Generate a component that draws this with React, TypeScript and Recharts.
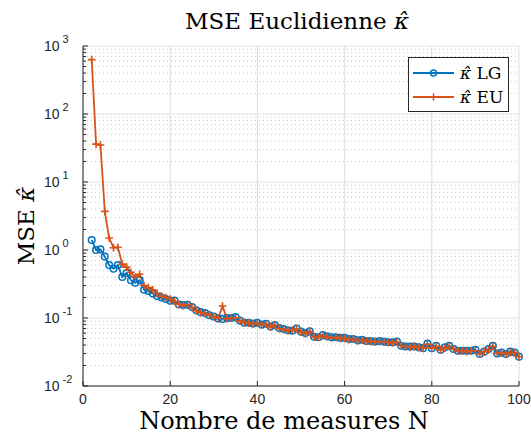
import {
  LineChart,
  Line,
  XAxis,
  YAxis,
  CartesianGrid,
  ReferenceLine,
} from "recharts";

const nValues = [
  2, 3, 4, 5, 6, 7, 8, 9, 10, 11, 12, 13, 14, 15, 16, 17, 18, 19, 20,
  21, 22, 23, 24, 25, 26, 27, 28, 29, 30, 31, 32, 33, 34, 35, 36, 37, 38, 39, 40,
  41, 42, 43, 44, 45, 46, 47, 48, 49, 50, 51, 52, 53, 54, 55, 56, 57, 58, 59, 60,
  61, 62, 63, 64, 65, 66, 67, 68, 69, 70, 71, 72, 73, 74, 75, 76, 77, 78, 79, 80,
  81, 82, 83, 84, 85, 86, 87, 88, 89, 90, 91, 92, 93, 94, 95, 96, 97, 98, 99, 100,
];

const lgValues = [
  1.4, 1.0, 1.02, 0.8, 0.6, 0.53, 0.6, 0.4, 0.46, 0.36, 0.33, 0.36, 0.26, 0.25, 0.23, 0.21, 0.2, 0.19, 0.18,
  0.18, 0.158, 0.155, 0.156, 0.145, 0.13, 0.122, 0.118, 0.11, 0.105, 0.098, 0.097, 0.1, 0.1, 0.103, 0.092, 0.085, 0.085, 0.083, 0.085,
  0.08, 0.082, 0.075, 0.079, 0.071, 0.069, 0.066, 0.065, 0.07, 0.063, 0.06, 0.064, 0.053, 0.052, 0.056, 0.054, 0.052, 0.052, 0.051, 0.051,
  0.049, 0.049, 0.047, 0.048, 0.046, 0.046, 0.045, 0.046, 0.045, 0.044, 0.044, 0.045, 0.039, 0.038, 0.038, 0.038, 0.037, 0.036, 0.042, 0.036,
  0.039, 0.034, 0.037, 0.039, 0.035, 0.033, 0.033, 0.033, 0.033, 0.034, 0.0295, 0.032, 0.035, 0.039, 0.03, 0.031, 0.0295, 0.032, 0.031, 0.027,
];

const euValues = [
  630, 36, 35, 3.7, 1.5, 1.08, 1.1, 0.62, 0.56, 0.47, 0.4, 0.44, 0.3, 0.28, 0.26, 0.23, 0.21, 0.2, 0.19,
  0.175, 0.16, 0.152, 0.158, 0.142, 0.128, 0.12, 0.116, 0.112, 0.104, 0.099, 0.15, 0.097, 0.1, 0.101, 0.09, 0.086, 0.084, 0.082, 0.084,
  0.079, 0.081, 0.074, 0.078, 0.07, 0.068, 0.065, 0.066, 0.069, 0.062, 0.059, 0.063, 0.052, 0.052, 0.055, 0.053, 0.051, 0.052, 0.05, 0.05,
  0.048, 0.049, 0.046, 0.047, 0.046, 0.045, 0.045, 0.045, 0.044, 0.044, 0.043, 0.044, 0.039, 0.038, 0.037, 0.038, 0.037, 0.036, 0.041, 0.036,
  0.038, 0.034, 0.036, 0.038, 0.035, 0.033, 0.033, 0.032, 0.033, 0.033, 0.0295, 0.032, 0.034, 0.038, 0.03, 0.031, 0.029, 0.031, 0.031, 0.027,
];

const xTicks = [0, 20, 40, 60, 80, 100];
const yMajor = [0.01, 0.1, 1, 10, 100, 1000];
const yMinor = [
  0.02, 0.03, 0.04, 0.05, 0.06, 0.07, 0.08, 0.09,
  0.2, 0.3, 0.4, 0.5, 0.6, 0.7, 0.8, 0.9,
  2, 3, 4, 5, 6, 7, 8, 9,
  20, 30, 40, 50, 60, 70, 80, 90,
  200, 300, 400, 500, 600, 700, 800, 900,
];
const seriesNames = ["LG", "EU"];

const data = nValues.map((n, i) => ({ n, lg: lgValues[i], eu: euValues[i] }));

const BLUE = "#0072BD";
const ORANGE = "#D95319";
const AXIS = "#262626";
const SERIF = "'DejaVu Serif', serif";
const SANS = "'Liberation Sans', Arial, sans-serif";

const isMajor = (v: number) => yMajor.some((m) => Math.abs(m - v) / m < 1e-6);

const YTick = (props: any) => {
  const { x, y, payload } = props;
  const v = payload.value;
  const major = isMajor(v);
  return (
    <g>
      <line x1={x} x2={x + (major ? 5 : 3)} y1={y} y2={y} stroke={AXIS} strokeWidth={1} />
      {major && (
        <text x={x - 39} y={y + 5} fontFamily={SANS} fontSize={14} fill={AXIS}>
          10
          <tspan dx={3} dy={-8} fontSize={11}>
            {Math.round(Math.log10(v))}
          </tspan>
        </text>
      )}
    </g>
  );
};

const XTick = (props: any) => {
  const { x, y, payload } = props;
  return (
    <g>
      <line x1={x} x2={x} y1={y} y2={y - 5} stroke={AXIS} strokeWidth={1} />
      <text x={x} y={y + 18} textAnchor="middle" fontFamily={SANS} fontSize={14} fill={AXIS}>
        {payload.value}
      </text>
    </g>
  );
};

const PlusDot = (props: any) => {
  const { cx, cy, index } = props;
  if (cx == null || cy == null) return <g key={`e${index}`} />;
  return (
    <path
      key={`p${index}`}
      d={`M${cx - 3.8},${cy}H${cx + 3.8}M${cx},${cy - 3.8}V${cy + 3.8}`}
      stroke={ORANGE}
      strokeWidth={1.6}
      fill="none"
    />
  );
};

const LegendBox = () => (
  <div
    style={{
      position: "absolute",
      left: 408,
      top: 57,
      width: 99,
      height: 53,
      border: `1px solid ${AXIS}`,
      background: "#fff",
      fontFamily: SERIF,
      fontSize: 17,
      color: "#000",
    }}
  >
    {seriesNames.map((name, i) => {
      const color = i === 0 ? BLUE : ORANGE;
      return (
        <div key={name} style={{ display: "flex", alignItems: "center", height: 24, marginTop: i === 0 ? 3 : 0 }}>
          <svg width={48} height={12} style={{ marginLeft: 3 }}>
            <line x1={1} x2={42} y1={6} y2={6} stroke={color} strokeWidth={2} />
            {i === 0 ? (
              <circle cx={21.5} cy={6} r={3} stroke={color} strokeWidth={1.5} fill="none" />
            ) : (
              <path d="M18,6H25M21.5,2.5V9.5" stroke={color} strokeWidth={1.5} />
            )}
          </svg>
          <span style={{ whiteSpace: "nowrap" }}>
            <i>κ̂</i> {name}
          </span>
        </div>
      );
    })}
  </div>
);

export default function App() {
  return (
    <div style={{ position: "absolute", left: 0, top: 0, width: 531, height: 439, background: "#fff" }}>
      <LineChart
        width={531}
        height={439}
        data={data}
        margin={{ top: 46, right: 12, bottom: 23, left: 0 }}
      >
        <CartesianGrid horizontal={false} stroke="#e2e2e2" strokeWidth={1.2} />
        {yMinor.map((v) => (
          <ReferenceLine key={`m${v}`} y={v} stroke="#c8c8c8" strokeDasharray="1 3" strokeWidth={1} />
        ))}
        {yMajor.map((v) => (
          <ReferenceLine key={`M${v}`} y={v} stroke="#e2e2e2" strokeWidth={1.2} />
        ))}
        <XAxis
          dataKey="n"
          type="number"
          domain={[0, 100]}
          ticks={xTicks}
          height={30}
          tickSize={0}
          tickMargin={0}
          tickLine={false}
          axisLine={{ stroke: AXIS }}
          tick={<XTick />}
        />
        <YAxis
          scale="log"
          domain={[0.01, 1000]}
          allowDataOverflow
          ticks={[...yMajor, ...yMinor].sort((a, b) => a - b)}
          width={83}
          tickSize={0}
          tickMargin={0}
          tickLine={false}
          axisLine={{ stroke: AXIS }}
          tick={<YTick />}
          interval={0}
        />
        <Line
          dataKey="lg"
          stroke={BLUE}
          strokeWidth={1.8}
          dot={{ r: 3.3, stroke: BLUE, strokeWidth: 1.5, fill: "none" }}
          isAnimationActive={false}
        />
        <Line
          dataKey="eu"
          stroke={ORANGE}
          strokeWidth={1.8}
          dot={<PlusDot />}
          isAnimationActive={false}
        />
      </LineChart>
      <div
        style={{
          position: "absolute",
          left: 83,
          width: 428,
          top: 8,
          textAlign: "center",
          fontFamily: SERIF,
          fontSize: 23,
          color: "#000",
          whiteSpace: "nowrap",
        }}
      >
        MSE Euclidienne <i>κ̂</i>
      </div>
      <LegendBox />
      <div
        style={{
          position: "absolute",
          left: 284,
          top: 421,
          transform: "translate(-50%, -50%)",
          fontFamily: SERIF,
          fontSize: 24,
          color: "#000",
          whiteSpace: "nowrap",
        }}
      >
        Nombre de measures N
      </div>
      <div
        style={{
          position: "absolute",
          left: 26,
          top: 226,
          transform: "translate(-50%, -50%) rotate(-90deg)",
          fontFamily: SERIF,
          fontSize: 23,
          color: "#000",
          whiteSpace: "nowrap",
        }}
      >
        MSE <i>κ̂</i>
      </div>
    </div>
  );
}
